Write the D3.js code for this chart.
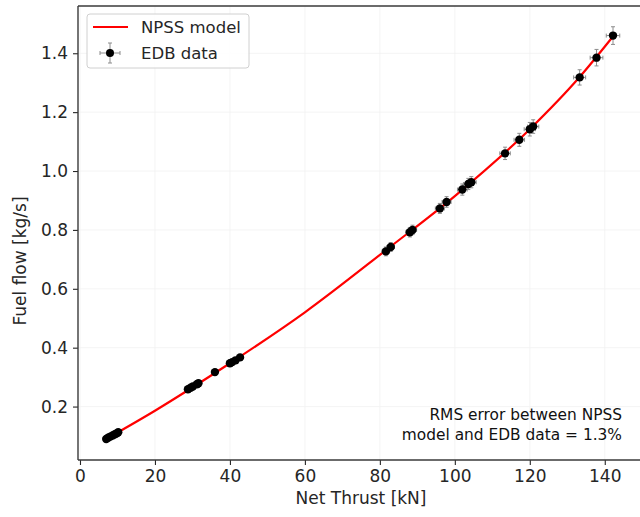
<!DOCTYPE html>
<html>
<head>
<meta charset="utf-8">
<script src="https://cdn.jsdelivr.net/npm/d3@7"></script>
<style>
  html, body { margin: 0; padding: 0; background: #fff; }
  svg { display: block; font-family: "DejaVu Sans", sans-serif; }
</style>
</head>
<body>
<svg id="chart" width="640" height="517"></svg>
<script>
// EDB measurements: net thrust [kN], fuel flow [kg/s] and their uncertainties
const edbThrust = [7.0, 7.5, 8.1, 8.7, 9.3, 9.8, 10.2,
  28.8, 29.5, 30.1, 31.2, 31.6, 36.0, 40.0, 40.6, 41.5, 42.7,
  81.6, 82.9, 88.0, 88.7, 96.0, 97.8, 102.0, 103.6, 104.4,
  113.4, 117.2, 120.0, 120.9, 133.3, 137.8, 142.2];
const edbFuel = [0.090, 0.094, 0.098, 0.102, 0.106, 0.109, 0.113,
  0.259, 0.264, 0.268, 0.276, 0.279, 0.317, 0.347, 0.351, 0.357, 0.367,
  0.727, 0.742, 0.792, 0.800, 0.873, 0.895, 0.937, 0.956, 0.962,
  1.060, 1.106, 1.142, 1.151, 1.318, 1.385, 1.460];
const edbThrustErr = [0.1, 0.1, 0.1, 0.1, 0.1, 0.1, 0.1,
  0.4, 0.4, 0.4, 0.4, 0.4, 0.5, 0.5, 0.5, 0.5, 0.5,
  1.0, 1.0, 1.1, 1.1, 1.2, 1.2, 1.3, 1.3, 1.3,
  1.4, 1.4, 1.5, 1.5, 1.6, 1.7, 1.8];
const edbFuelErr = [0.002, 0.002, 0.002, 0.002, 0.002, 0.002, 0.002,
  0.005, 0.005, 0.005, 0.006, 0.006, 0.006, 0.007, 0.007, 0.007, 0.007,
  0.015, 0.015, 0.016, 0.016, 0.017, 0.018, 0.019, 0.019, 0.019,
  0.021, 0.022, 0.023, 0.023, 0.026, 0.028, 0.030];

// NPSS model curve
const modelThrust = [7, 20, 40, 60, 82, 100, 120, 133, 142.5];
const modelFuel = [0.090, 0.186, 0.347, 0.520, 0.735, 0.915, 1.142, 1.315, 1.462];

const xTicks = [0, 20, 40, 60, 80, 100, 120, 140];
const yTicks = [0.2, 0.4, 0.6, 0.8, 1.0, 1.2, 1.4];

const points = edbThrust.map((x, i) => ({x, y: edbFuel[i], ex: edbThrustErr[i], ey: edbFuelErr[i]}));
const model = modelThrust.map((x, i) => ({x, y: modelFuel[i]}));

const svg = d3.select("#chart");
const plot = {left: 78, right: 646, top: 6, bottom: 460};

const x = d3.scaleLinear().domain([-0.53, 151]).range([plot.left, plot.right]);
const y = d3.scaleLinear().domain([0.0185, 1.5605]).range([plot.bottom, plot.top]);

const fontSize = 17;
const ink = "#262626";

// grid
const grid = svg.append("g").attr("stroke", "#f1f1f1").attr("stroke-width", 0.8);
grid.selectAll("line.gx").data(xTicks).join("line")
  .attr("x1", d => x(d)).attr("x2", d => x(d))
  .attr("y1", plot.top).attr("y2", plot.bottom);
grid.selectAll("line.gy").data(yTicks).join("line")
  .attr("x1", plot.left).attr("x2", plot.right)
  .attr("y1", d => y(d)).attr("y2", d => y(d));

// axes
const xAxis = svg.append("g")
  .attr("transform", `translate(0,${plot.bottom})`)
  .call(d3.axisBottom(x).tickValues(xTicks).tickFormat(d3.format("d")).tickSize(5).tickPadding(5));
const yAxis = svg.append("g")
  .attr("transform", `translate(${plot.left},0)`)
  .call(d3.axisLeft(y).tickValues(yTicks).tickFormat(d3.format(".1f")).tickSize(5).tickPadding(5));
[xAxis, yAxis].forEach(a => {
  a.select(".domain").remove();
  a.selectAll(".tick line").attr("stroke", ink).attr("stroke-width", 1.1);
  a.selectAll(".tick text").attr("fill", ink)
    .style("font-family", "DejaVu Sans").style("font-size", fontSize + "px");
});

// spines (left, bottom, top)
const spine = svg.append("g").attr("stroke", "#3a3a3a").attr("stroke-width", 1.4).attr("fill", "none");
spine.append("line").attr("x1", plot.left).attr("x2", plot.left).attr("y1", plot.top).attr("y2", plot.bottom);
spine.append("line").attr("x1", plot.left).attr("x2", plot.right).attr("y1", plot.bottom).attr("y2", plot.bottom);
spine.append("line").attr("x1", plot.left).attr("x2", plot.right).attr("y1", plot.top).attr("y2", plot.top);

// model curve
svg.append("path")
  .datum(model)
  .attr("fill", "none")
  .attr("stroke", "#ff0000")
  .attr("stroke-width", 2.2)
  .attr("d", d3.line().x(d => x(d.x)).y(d => y(d.y)).curve(d3.curveMonotoneX));

// error bars
const errColor = "#8c8c8c";
const cap = 2;
const eb = svg.append("g").attr("stroke", errColor).attr("stroke-width", 1);
points.forEach(p => {
  const cx = x(p.x), cy = y(p.y);
  const x0 = x(p.x - p.ex), x1 = x(p.x + p.ex);
  const y0 = y(p.y - p.ey), y1 = y(p.y + p.ey);
  eb.append("line").attr("x1", x0).attr("x2", x1).attr("y1", cy).attr("y2", cy);
  eb.append("line").attr("x1", cx).attr("x2", cx).attr("y1", y0).attr("y2", y1);
  eb.append("line").attr("x1", x0).attr("x2", x0).attr("y1", cy - cap).attr("y2", cy + cap);
  eb.append("line").attr("x1", x1).attr("x2", x1).attr("y1", cy - cap).attr("y2", cy + cap);
  eb.append("line").attr("x1", cx - cap).attr("x2", cx + cap).attr("y1", y0).attr("y2", y0);
  eb.append("line").attr("x1", cx - cap).attr("x2", cx + cap).attr("y1", y1).attr("y2", y1);
});

// data markers
svg.append("g").selectAll("circle").data(points).join("circle")
  .attr("cx", d => x(d.x)).attr("cy", d => y(d.y)).attr("r", 4.2)
  .attr("fill", "#000");

// legend
const lg = svg.append("g");
lg.append("rect").attr("x", 87).attr("y", 14).attr("width", 162).attr("height", 54)
  .attr("rx", 3).attr("fill", "#fff").attr("fill-opacity", 0.85)
  .attr("stroke", "#d0d0d0").attr("stroke-width", 1);
lg.append("line").attr("x1", 93).attr("x2", 128).attr("y1", 27).attr("y2", 27)
  .attr("stroke", "#ff0000").attr("stroke-width", 2.2);
const ly = 53, lx = 110;
const lgEb = lg.append("g").attr("stroke", errColor).attr("stroke-width", 1);
lgEb.append("line").attr("x1", lx - 10).attr("x2", lx + 10).attr("y1", ly).attr("y2", ly);
lgEb.append("line").attr("x1", lx).attr("x2", lx).attr("y1", ly - 10).attr("y2", ly + 10);
lgEb.append("line").attr("x1", lx - 10).attr("x2", lx - 10).attr("y1", ly - cap).attr("y2", ly + cap);
lgEb.append("line").attr("x1", lx + 10).attr("x2", lx + 10).attr("y1", ly - cap).attr("y2", ly + cap);
lgEb.append("line").attr("x1", lx - cap).attr("x2", lx + cap).attr("y1", ly - 10).attr("y2", ly - 10);
lgEb.append("line").attr("x1", lx - cap).attr("x2", lx + cap).attr("y1", ly + 10).attr("y2", ly + 10);
lg.append("circle").attr("cx", lx).attr("cy", ly).attr("r", 4).attr("fill", "#000");
lg.append("text").attr("x", 141).attr("y", 33).text("NPSS model")
  .attr("fill", ink).style("font-size", "16.5px");
lg.append("text").attr("x", 141).attr("y", 59).text("EDB data")
  .attr("fill", ink).style("font-size", "16.5px");

// axis labels
svg.append("text").attr("x", 361).attr("y", 504).attr("text-anchor", "middle")
  .attr("fill", ink).style("font-size", fontSize + "px").text("Net Thrust [kN]");
svg.append("text").attr("transform", "translate(26,261) rotate(-90)").attr("text-anchor", "middle")
  .attr("fill", ink).style("font-size", fontSize + "px").text("Fuel flow [kg/s]");

// annotation
const note = svg.append("text").attr("text-anchor", "end").attr("fill", "#111")
  .style("font-size", "15.4px");
note.append("tspan").attr("x", 622).attr("y", 420).text("RMS error between NPSS");
note.append("tspan").attr("x", 622).attr("y", 440).text("model and EDB data = 1.3%");
</script>
</body>
</html>
